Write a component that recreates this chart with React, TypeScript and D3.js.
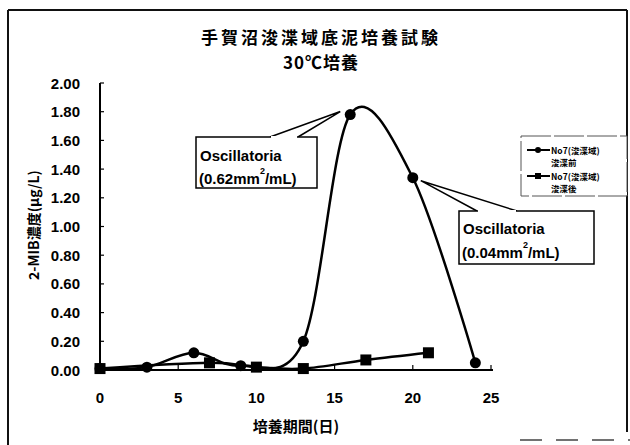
import React from "react";
import * as d3 from "d3";

const titleLines = ["手賀沼浚渫域底泥培養試験", "30℃培養"];
const xTicks = [0, 5, 10, 15, 20, 25];
const yTicks = [0, 0.2, 0.4, 0.6, 0.8, 1.0, 1.2, 1.4, 1.6, 1.8, 2.0];
const beforeDays = [0, 3, 6, 9, 13, 16, 20, 24];
const beforeValues = [0.01, 0.02, 0.12, 0.03, 0.2, 1.78, 1.34, 0.05];
const afterDays = [0, 7, 10, 13, 17, 21];
const afterValues = [0.01, 0.05, 0.02, 0.01, 0.07, 0.12];
const legendLabels = [["No7(浚渫域)", "浚渫前"], ["No7(浚渫域)", "浚渫後"]];
const notes = [
  { text: "Oscillatoria", amount: "(0.62mm", unit: "/mL)" },
  { text: "Oscillatoria", amount: "(0.04mm", unit: "/mL)" },
];

const W = 630;
const H = 445;
const cjk = "'Noto Sans CJK JP', sans-serif";
const latin = "'Liberation Sans', Arial, sans-serif";

export default function App() {
  const x = d3.scaleLinear().domain([0, 25]).range([100, 491]);
  const y = d3.scaleLinear().domain([0, 2]).range([370, 83]);
  const line = d3
    .line<[number, number]>()
    .x((d) => x(d[0]))
    .y((d) => y(d[1]))
    .curve(d3.curveCardinal.tension(0));
  const before: [number, number][] = beforeDays.map((d, i) => [d, beforeValues[i]]);
  const after: [number, number][] = afterDays.map((d, i) => [d, afterValues[i]]);

  const p16 = [x(beforeDays[5]), y(beforeValues[5])];
  const p20 = [x(beforeDays[6]), y(beforeValues[6])];

  return (
    <svg width={W} height={H} style={{ position: "absolute", left: 0, top: 0, background: "#fff" }}>
      <rect x={0} y={0} width={W} height={H} fill="#fff" />
      {/* outer frame */}
      <line x1={8} y1={10} x2={627} y2={10} stroke="#111" strokeWidth={2} />
      <line x1={8} y1={10} x2={8} y2={445} stroke="#111" strokeWidth={2} />
      <line x1={627} y1={10} x2={627} y2={432} stroke="#111" strokeWidth={2} />
      <line x1={520} y1={440} x2={630} y2={440} stroke="#444" strokeWidth={1.5} strokeDasharray="22 14" />

      {/* title */}
      {titleLines.map((t, i) => (
        <text
          key={i}
          x={321}
          y={36 + i * 25}
          textAnchor="middle"
          dominantBaseline="central"
          fontFamily={cjk}
          fontWeight="bold"
          fontSize={17}
          letterSpacing={i === 0 ? 3 : 1}
          fill="#000"
        >
          {t}
        </text>
      ))}

      {/* axes */}
      <line x1={x(0)} y1={y(2)} x2={x(0)} y2={y(0)} stroke="#000" strokeWidth={2} />
      <line x1={x(0)} y1={y(0)} x2={x(25) + 2} y2={y(0)} stroke="#000" strokeWidth={2} />
      {yTicks.map((t) => (
        <g key={t}>
          <line x1={x(0)} x2={x(0) + 4} y1={y(t)} y2={y(t)} stroke="#000" strokeWidth={1.2} />
          <text
            x={80}
            y={y(t)}
            textAnchor="end"
            dominantBaseline="central"
            fontFamily={latin}
            fontWeight="bold"
            fontSize={15}
          >
            {t.toFixed(2)}
          </text>
        </g>
      ))}
      {xTicks.map((t) => (
        <g key={t}>
          <line x1={x(t)} x2={x(t)} y1={y(0)} y2={y(0) - 5} stroke="#000" strokeWidth={1.2} />
          <text
            x={x(t)}
            y={397}
            textAnchor="middle"
            dominantBaseline="central"
            fontFamily={latin}
            fontWeight="bold"
            fontSize={15}
          >
            {t}
          </text>
        </g>
      ))}
      <text
        x={296}
        y={425}
        textAnchor="middle"
        dominantBaseline="central"
        fontFamily={cjk}
        fontWeight="bold"
        fontSize={15}
      >
        培養期間(日)
      </text>
      <text
        transform={`translate(33,225) rotate(-90)`}
        textAnchor="middle"
        dominantBaseline="central"
        fontFamily={cjk}
        fontWeight="bold"
        fontSize={14}
      >
        2-MIB濃度(μg/L)
      </text>

      {/* series */}
      <path d={line(before) || ""} fill="none" stroke="#000" strokeWidth={2.5} />
      <path d={line(after) || ""} fill="none" stroke="#000" strokeWidth={2.5} />
      {before.map((d, i) => (
        <circle key={i} cx={x(d[0])} cy={y(d[1])} r={5.5} fill="#000" />
      ))}
      {after.map((d, i) => (
        <rect key={i} x={x(d[0]) - 5.5} y={y(d[1]) - 5.5} width={11} height={11} fill="#000" />
      ))}

      {/* callout 1 */}
      <path
        d={`M270,137 L${p16[0] - 10},${p16[1] - 3} L298,137`}
        fill="#fff"
        stroke="#000"
        strokeWidth={1.5}
      />
      <rect x={196} y={137} width={121} height={51} fill="#fff" stroke="#000" strokeWidth={1.5} />
      <line x1={271} y1={137} x2={297} y2={137} stroke="#fff" strokeWidth={2} />
      <text x={200} y={155} dominantBaseline="central" fontFamily={latin} fontWeight="bold" fontSize={15}>
        {notes[0].text}
      </text>
      <text x={199} y={178} dominantBaseline="central" fontFamily={latin} fontWeight="bold" fontSize={15}>
        {notes[0].amount}
        <tspan dy={-7} fontSize={9}>2</tspan>
        <tspan dy={7}>{notes[0].unit}</tspan>
      </text>

      {/* callout 2 */}
      <path
        d={`M477,211 L${p20[0] + 8},${p20[1] + 3} L517,211`}
        fill="#fff"
        stroke="#000"
        strokeWidth={1.5}
      />
      <rect x={459} y={211} width={135} height={53} fill="#fff" stroke="#000" strokeWidth={1.5} />
      <line x1={478} y1={211} x2={516} y2={211} stroke="#fff" strokeWidth={2} />
      <text x={463} y={228} dominantBaseline="central" fontFamily={latin} fontWeight="bold" fontSize={15}>
        {notes[1].text}
      </text>
      <text x={462} y={252} dominantBaseline="central" fontFamily={latin} fontWeight="bold" fontSize={15}>
        {notes[1].amount}
        <tspan dy={-7} fontSize={9}>2</tspan>
        <tspan dy={7}>{notes[1].unit}</tspan>
      </text>

      {/* legend */}
      <rect x={521} y={136} width={106} height={60} fill="#fff" stroke="#555" strokeWidth={1} strokeDasharray="30 3" />
      {legendLabels.map((lab, i) => {
        const ly = 150 + i * 26;
        return (
          <g key={i}>
            <line x1={527} x2={550} y1={ly} y2={ly} stroke="#000" strokeWidth={2} />
            {i === 0 ? (
              <circle cx={538} cy={ly} r={3} fill="#000" />
            ) : (
              <rect x={535} y={ly - 3} width={6} height={6} fill="#000" />
            )}
            <text x={551} y={ly} dominantBaseline="central" fontFamily={cjk} fontWeight="bold" fontSize={8.5}>
              {lab[0]}
            </text>
            <text x={551} y={ly + 12} dominantBaseline="central" fontFamily={cjk} fontWeight="bold" fontSize={8.5}>
              {lab[1]}
            </text>
          </g>
        );
      })}
    </svg>
  );
}
